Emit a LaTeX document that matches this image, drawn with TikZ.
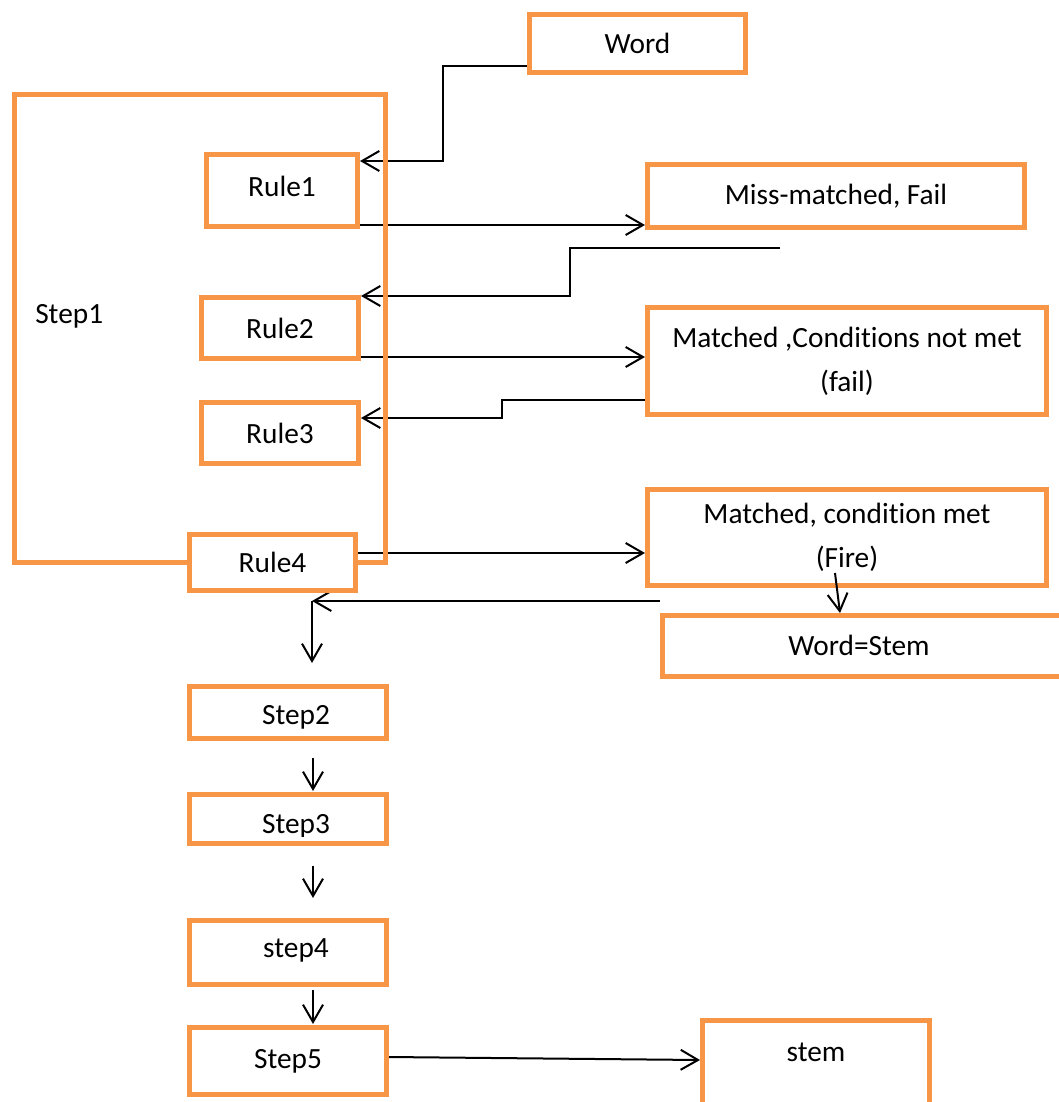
\documentclass[tikz,border=0pt]{standalone}
\usepackage{fontspec}
\setmainfont{Carlito}[Ligatures=NoCommon]
\usetikzlibrary{arrows.meta}
\definecolor{boxorange}{HTML}{F79646}
\pgfdeclarelayer{back}
\pgfdeclarelayer{wires}
\pgfsetlayers{back,wires,main}
\begin{document}
\begin{tikzpicture}[x=0.75pt,y=-0.75pt,
  every node/.style={font=\fontsize{22}{33}\selectfont},
  sz/.style 2 args={minimum width=#1*0.75pt, minimum height=#2*0.75pt},
  box/.style={draw=boxorange, line width=3.75pt, fill=white, rectangle, inner sep=0pt, align=center},
  frame/.style={draw=boxorange, line width=3.75pt, rectangle, inner sep=0pt},
  txt/.style={inner sep=0pt, align=center},
  wire/.style={draw=black, line width=1.5pt},
  conn/.style={wire, -{Straight Barb[length=13pt,width=15pt,line width=1.5pt]}}]

\useasboundingbox (0,0) rectangle (1059,1102);
\begin{pgfonlayer}{back}
  \fill[white] (0,0) rectangle (1059,1102);
\end{pgfonlayer}
\clip (0,0) rectangle (1059,1102);

% outer frame of the first step
\node[frame, sz={371}{468}] (step1) at (200,328.5) {};
\node[txt, anchor=west] (step1txt) at (35,316) {Step1};

% rules inside step 1
\node[box, sz={151}{72}] (rule1) at (282,190.5) {};
\node[txt] (rule1txt) at (282,186) {Rule1};
\node[box, sz={157}{61}] (rule2) at (280,328) {Rule2};
\node[box, sz={157}{61}] (rule3) at (280,433) {Rule3};
\node[box, sz={166}{56}] (rule4) at (272.5,562.5) {Rule4};

% input and outcomes
\node[box, sz={216}{58}] (word) at (637.5,43.5) {Word};
\node[box, sz={377}{63}] (miss) at (836,196) {Miss-matched, Fail};
\node[box, sz={399}{107}] (notmet) at (847,361) {Matched ,Conditions not met\\(fail)};
\node[box, sz={399}{96}] (met) at (847,537.5) {Matched, condition met\\(Fire)};
\node[box, sz={407}{61}] (wstem) at (866,646) {};
\node[txt] (wstemtxt) at (859,645) {Word=Stem};

% remaining steps
\node[box, sz={197}{52}] (step2) at (288,712.5) {};
\node[txt] (step2txt) at (296,717) {Step2};
\node[box, sz={197}{49}] (step3) at (288,819) {};
\begin{scope}
  \clip (190,795) rectangle (386,836);
  \node[txt, anchor=base] (step3txt) at (296,833) {Step3};
\end{scope}
\node[box, sz={197}{64}] (step4) at (288,952.5) {};
\node[txt] (step4txt) at (296,950) {step4};
\node[box, sz={197}{67}] (step5) at (288,1061) {Step5};
\node[box, sz={227}{90}] (stem) at (816,1065) {};
\node[txt] (stemtxt) at (816,1052) {stem};

% free ends of connectors
\coordinate (retA) at (780,248);
\coordinate (retB) at (660,601);
\coordinate (turn) at (312,601);
\coordinate (down) at (312,663);
\coordinate (fire) at (835,573);
\coordinate (a2top) at (313,758);
\coordinate (a2bot) at (313,791);
\coordinate (a3top) at (313,866);
\coordinate (a3bot) at (313,898);
\coordinate (a4top) at (313,990);
\coordinate (a4bot) at (313,1024);

\begin{pgfonlayer}{wires}
  \draw[conn] (word.west |- 0,66) -- (443,66) -- (443,161) -- (rule1.east |- 0,161);
  \draw[conn] (rule1.east |- 0,225) -- (miss.west |- 0,225);
  \draw[conn] (retA) -- (570,248) -- (570,296) -- (rule2.east |- 0,296);
  \draw[conn] (rule2.east |- 0,357) -- (notmet.west |- 0,357);
  \draw[conn] (notmet.west |- 0,400) -- (502,400) -- (502,418) -- (rule3.east |- 0,418);
  \draw[conn] (rule4.east |- 0,553) -- (met.west |- 0,553);
  \draw[conn] (retB) -- (turn);
  \draw[conn] (turn) -- (down);
  \draw[conn] (a2top) -- (a2bot);
  \draw[conn] (a3top) -- (a3bot);
  \draw[conn] (a4top) -- (a4bot);
  \draw[conn] (step5.east |- 0,1057) -- (stem.west |- 0,1060);
\end{pgfonlayer}
% this one starts inside its box, so it goes over it
\draw[conn] (fire) -- (wstem.north -| 840,0);
\end{tikzpicture}
\end{document}
